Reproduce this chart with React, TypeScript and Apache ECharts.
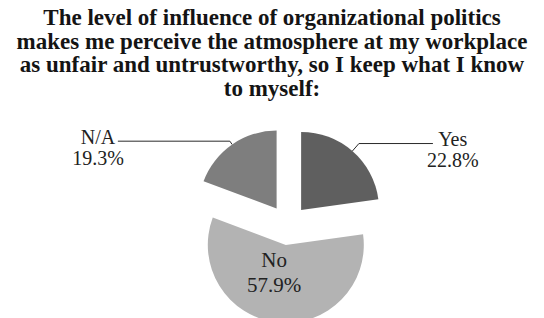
import React, { useEffect, useRef } from 'react';
import * as echarts from 'echarts';

// ---- data ----
const titleLines = [
  'The level of influence of organizational politics',
  'makes me perceive the atmosphere at my workplace',
  'as unfair and untrustworthy, so I keep what I know',
  'to myself:',
];
const categories = ['Yes', 'No', 'N/A'];
const percentages = [22.8, 57.9, 19.3];

// ---- styles ----
const sliceColors = ['#5f5f5f', '#b3b3b3', '#7e7e7e'];
const labelInside = [false, true, false];
const leaderLen1 = [10, 0, 4];
const leaderLen2 = [74, 0, 112];
const SERIF = 'Liberation Serif';

export default function App() {
  const ref = useRef<HTMLDivElement>(null);

  useEffect(() => {
    if (!ref.current) return;
    const chart = echarts.init(ref.current, undefined, { renderer: 'svg' });

    const data = categories.map((name, i) => {
      const item: any = {
        name,
        value: percentages[i],
        selected: true,
        itemStyle: { color: sliceColors[i] },
      };
      if (labelInside[i]) {
        item.label = {
          position: 'inside',
          formatter: (p: any) => `{n|${p.name}}\n{v|${p.value.toFixed(1)}%}`,
          padding: [0, 14, 28, 0],
          rich: {
            n: { fontFamily: SERIF, fontSize: 21, lineHeight: 25, color: '#222', align: 'center' },
            v: { fontFamily: SERIF, fontSize: 21, lineHeight: 25, color: '#222', align: 'center' },
          },
        };
        item.labelLine = { show: false };
      } else {
        item.labelLine = { show: true, length: leaderLen1[i], length2: leaderLen2[i] };
      }
      return item;
    });

    chart.setOption({
      animation: false,
      backgroundColor: '#ffffff',
      title: {
        text: titleLines.join('\n'),
        left: 'center',
        top: 6,
        padding: 0,
        textStyle: {
          fontFamily: SERIF,
          fontWeight: 'bold',
          fontSize: 23,
          lineHeight: 23.5,
          color: '#141414',
          align: 'center',
        },
      },
      series: [
        {
          type: 'pie',
          center: [288, 225],
          radius: [0, 78],
          startAngle: 90,
          clockwise: true,
          selectedMode: 'multiple',
          selectedOffset: 20,
          avoidLabelOverlap: false,
          silent: true,
          emphasis: { disabled: true },
          label: {
            show: true,
            position: 'outside',
            distanceToLabelLine: -6,
            padding: [12, 0, 0, 0],
            formatter: (p: any) => `{n|${p.name}}\n{v|${p.value.toFixed(1)}%}`,
            rich: {
              n: { fontFamily: SERIF, fontSize: 20, lineHeight: 21, color: '#222', align: 'center' },
              v: { fontFamily: SERIF, fontSize: 20, lineHeight: 21, color: '#222', align: 'center' },
            },
          },
          labelLine: {
            show: true,
            lineStyle: { color: '#2a2a2a', width: 1 },
          },
          data,
        },
      ],
    });

    return () => chart.dispose();
  }, []);

  return (
    <div
      ref={ref}
      style={{ position: 'fixed', left: 0, top: 0, width: 544, height: 318 }}
    />
  );
}
